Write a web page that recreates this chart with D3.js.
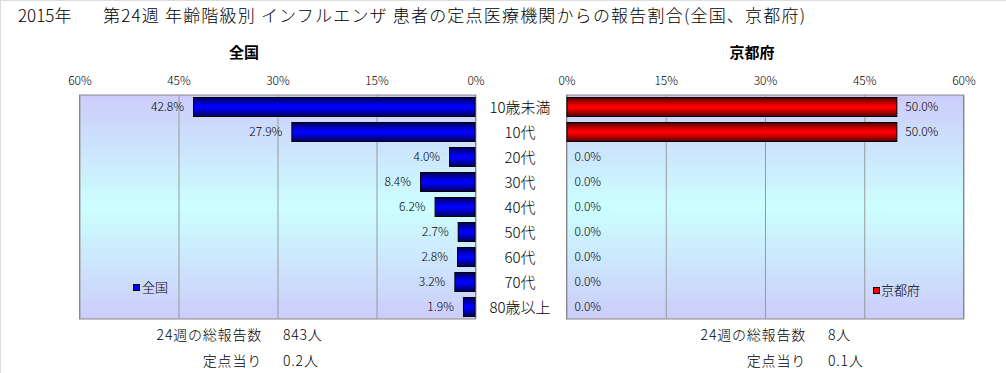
<!DOCTYPE html>
<html><head><meta charset="utf-8">
<script src="https://cdn.jsdelivr.net/npm/d3@7"></script>
<style>
html,body{margin:0;padding:0;background:#fff;}
svg{display:block;font-family:"Noto Sans CJK JP","Noto Sans",sans-serif;font-weight:300;}
</style></head><body>
<svg id="c" width="1006" height="373"></svg>
<script>
const categories = ["10歳未満","10代","20代","30代","40代","50代","60代","70代","80歳以上"];
const nationalValues = [42.8,27.9,4.0,8.4,6.2,2.7,2.8,3.2,1.9];
const kyotoValues = [50.0,50.0,0.0,0.0,0.0,0.0,0.0,0.0,0.0];
const tickValues = [0,15,30,45,60];
const titleYear = "2015年";
const titleMain = "第24週 年齢階級別 インフルエンザ 患者の定点医療機関からの報告割合(全国、京都府)";
const panelNames = ["全国","京都府"];
const totalLabel = "24週の総報告数";
const perPointLabel = "定点当り";
const totals = ["843人","8人"];
const perPoint = ["0.2人","0.1人"];

const svg = d3.select("#c");
const defs = svg.append("defs");
svg.append("line").attr("x1",0).attr("y1",0.5).attr("x2",1006).attr("y2",0.5).attr("stroke","#dddddd");
svg.append("line").attr("x1",0.5).attr("y1",0).attr("x2",0.5).attr("y2",373).attr("stroke","#dddddd");

const bg = defs.append("linearGradient").attr("id","bg").attr("x1",0).attr("y1",0).attr("x2",0).attr("y2",1);
[[0,"#ccccfa"],[0.5,"#ccffff"],[1,"#ccccfa"]].forEach(s=>bg.append("stop").attr("offset",s[0]).attr("stop-color",s[1]));
function barGrad(id, dark, bright){
  const g = defs.append("linearGradient").attr("id",id).attr("x1",0).attr("y1",0).attr("x2",0).attr("y2",1);
  [[0,dark],[0.45,bright],[0.55,bright],[1,dark]].forEach(s=>g.append("stop").attr("offset",s[0]).attr("stop-color",s[1]));
}
barGrad("gb","#000055","#0000ff");
barGrad("gr","#550000","#ff0000");

svg.append("text").attr("x",18).attr("y",22).attr("font-size",17).attr("fill","#000").text(titleYear);
svg.append("text").attr("x",103).attr("y",22).attr("font-size",17).attr("fill","#000")
  .attr("textLength",702).attr("lengthAdjust","spacing").text(titleMain);

const y = d3.scaleBand().domain(categories).range([95,319]).paddingInner(0.2).paddingOuter(0.1);
const xL = d3.scaleLinear().domain([0,60]).range([475.5,79.5]);
const xR = d3.scaleLinear().domain([0,60]).range([566.5,963.5]);

function panel(x, values, grad, name, titleX, left){
  const [r0,r1] = x.range();
  const x0 = Math.min(r0,r1), x1 = Math.max(r0,r1);
  svg.append("rect").attr("x",x0).attr("y",95).attr("width",x1-x0).attr("height",224).attr("fill","url(#bg)");
  const grid = svg.append("g").attr("transform","translate(0,95)")
    .call(d3.axisBottom(x).tickValues(tickValues).tickSize(224).tickFormat(""));
  grid.select(".domain").remove();
  grid.selectAll("line").attr("stroke","#999999");
  svg.append("rect").attr("x",x0).attr("y",95).attr("width",x1-x0).attr("height",224)
    .attr("fill","none").attr("stroke","#888888");
  const ax = svg.append("g").attr("transform","translate(0,85)")
    .call(d3.axisTop(x).tickValues(tickValues).tickSize(0).tickPadding(0).tickFormat(d=>d+"%"));
  ax.select(".domain").remove();
  ax.selectAll("text").attr("font-size",12).attr("font-family","'Noto Sans CJK JP',sans-serif")
    .attr("font-weight",300).attr("fill","#000").attr("dy",0);
  svg.append("g").selectAll("rect").data(values.map((v,i)=>({v,c:categories[i]})).filter(d=>d.v>0)).join("rect")
    .attr("x",d=>Math.min(x(0),x(d.v))+0.5).attr("y",d=>Math.round(y(d.c))+0.5)
    .attr("width",d=>Math.abs(x(d.v)-x(0))-1).attr("height",Math.round(y.bandwidth())-1)
    .attr("fill",`url(#${grad})`).attr("stroke","#000").attr("stroke-width",1);
  svg.append("g").selectAll("text").data(values).join("text")
    .attr("x",d=> left ? x(d)-9 : x(d)+8)
    .attr("y",(d,i)=>y(categories[i])+y.bandwidth()/2+4)
    .attr("text-anchor",left?"end":"start")
    .attr("font-size",12).attr("fill","#000")
    .text(d=>d.toFixed(1)+"%");
  svg.append("text").attr("x",titleX).attr("y",58).attr("text-anchor","middle")
    .attr("font-size",15).attr("font-weight","bold").text(name);
}
panel(xL, nationalValues, "gb", panelNames[0], 244, true);
panel(xR, kyotoValues, "gr", panelNames[1], 752, false);

svg.append("g").selectAll("text").data(categories).join("text")
  .attr("x",520).attr("y",d=>y(d)+y.bandwidth()/2+6)
  .attr("text-anchor","middle").attr("font-size",15).attr("fill","#000").text(d=>d);

svg.append("rect").attr("x",133.5).attr("y",284.5).attr("width",6).attr("height",6).attr("fill","#0000ff").attr("stroke","#000");
svg.append("text").attr("x",142).attr("y",292).attr("font-size",13).text(panelNames[0]);
svg.append("rect").attr("x",873.5).attr("y",287.5).attr("width",6).attr("height",6).attr("fill","#ff0000").attr("stroke","#000");
svg.append("text").attr("x",881).attr("y",295).attr("font-size",13).text(panelNames[1]);

[[262,283],[806,828]].forEach((p,i)=>{
  svg.append("text").attr("x",p[0]).attr("y",340).attr("text-anchor","end").attr("font-size",14).attr("letter-spacing",0.8).text(totalLabel);
  svg.append("text").attr("x",p[1]).attr("y",340).attr("font-size",14).attr("letter-spacing",0.8).text(totals[i]);
  svg.append("text").attr("x",p[0]).attr("y",366).attr("text-anchor","end").attr("font-size",14).attr("letter-spacing",0.8).text(perPointLabel);
  svg.append("text").attr("x",p[1]).attr("y",366).attr("font-size",14).attr("letter-spacing",0.8).text(perPoint[i]);
});
</script></body></html>
